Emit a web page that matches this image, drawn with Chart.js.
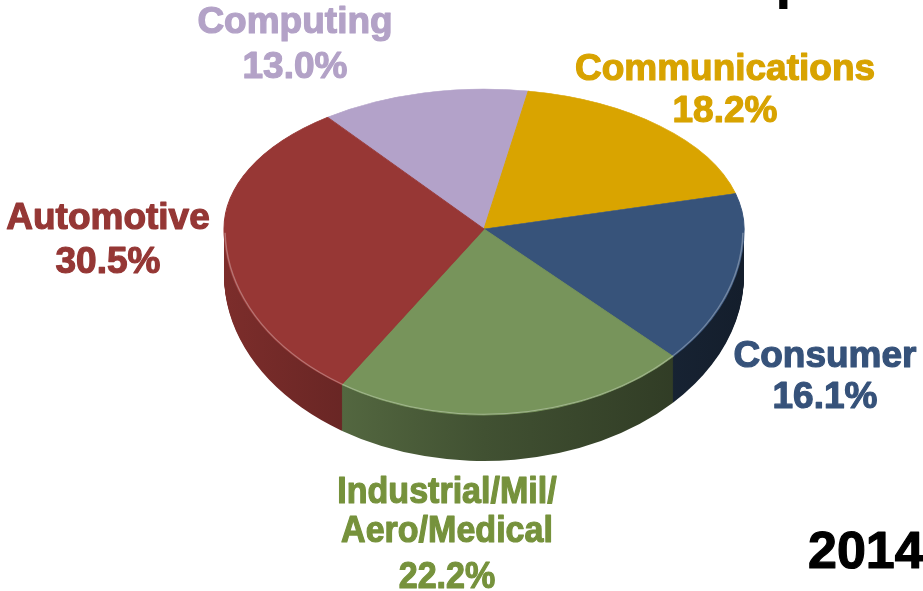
<!DOCTYPE html>
<html>
<head>
<meta charset="utf-8">
<script src="https://cdn.jsdelivr.net/npm/chart.js@4.4.1/dist/chart.umd.min.js"></script>
<style>
  html, body { margin: 0; padding: 0; background: #fff; overflow: hidden; }
</style>
</head>
<body>
<canvas id="pieChart" width="923" height="591"></canvas>
<script>
// data
const segments = ['Computing', 'Communications', 'Consumer', 'Industrial/Mil/Aero/Medical', 'Automotive'];
const shares = [13.0, 18.2, 16.1, 22.2, 30.5];
const labelLines = [['Computing'], ['Communications'], ['Consumer'], ['Industrial/Mil/', 'Aero/Medical'], ['Automotive']];
const yearLabel = '2014';

const sliceColors = ['#b3a2c9', '#d9a400', '#37537a', '#77945b', '#973735'];
const textColors = ['#b3a2c7', '#d8a300', '#36527a', '#76923c', '#953735'];

// tilted pie geometry (top face ellipse, front half a bit deeper for perspective)
const CX = 484, CY = 229, RX = 260, RY_BACK = 140, RY_FRONT = 186, DEPTH = 46;

// label layout: centre x, baselines of each line (last one is the percentage)
const labelX = [295, 725, 825, 447, 108];
const labelBaselines = [[33, 78], [80, 122], [367, 408], [503, 542, 588], [229, 273]];
const labelSqueeze = [1, 1, 1, 0.92, 1];

function shade(hex, f) {
    const n = parseInt(hex.slice(1), 16);
    const r = (n >> 16) & 255, g = (n >> 8) & 255, b = n & 255;
    return 'rgb(' + Math.round(r * f) + ',' + Math.round(g * f) + ',' + Math.round(b * f) + ')';
}

function toTilt(ctx, arc, ry) {
    ctx.translate(CX, CY);
    ctx.scale(RX / arc.outerRadius, ry / arc.outerRadius);
    ctx.translate(-arc.x, -arc.y);
}

const tiltPlugin = {
    id: 'tilt',
    beforeDatasetsDraw(chart) {
        const ctx = chart.ctx;
        const arcs = chart.getDatasetMeta(0).data;
        const a0 = arcs[0];

        // side walls, only the front half can be seen
        ctx.save();
        ctx.beginPath();
        ctx.rect(0, CY, chart.width, chart.height - CY);
        ctx.clip();
        for (let d = DEPTH; d >= 1; d--) {
            arcs.forEach((arc, i) => {
                const r = arc.outerRadius;
                ctx.save();
                ctx.translate(0, d);
                toTilt(ctx, arc, RY_FRONT);
                const g = ctx.createLinearGradient(arc.x - r, 0, arc.x + r, 0);
                g.addColorStop(0, shade(sliceColors[i], 0.82));
                g.addColorStop(0.5, shade(sliceColors[i], 0.55));
                g.addColorStop(1, shade(sliceColors[i], 0.36));
                ctx.fillStyle = g;
                ctx.beginPath();
                ctx.moveTo(arc.x, arc.y);
                ctx.arc(arc.x, arc.y, r, arc.startAngle, arc.endAngle);
                ctx.closePath();
                ctx.fill();
                ctx.restore();
            });
        }
        ctx.restore();

        // back half of the top face
        ctx.save();
        ctx.beginPath();
        ctx.rect(0, 0, chart.width, CY);
        ctx.clip();
        toTilt(ctx, a0, RY_BACK);
        arcs.forEach(a => a.draw(ctx));
        ctx.restore();

        // front half: the chart's own draw, clipped and squashed
        ctx.save();
        ctx.beginPath();
        ctx.rect(0, CY, chart.width, chart.height - CY);
        ctx.clip();
        toTilt(ctx, a0, RY_FRONT);
    },
    afterDatasetsDraw(chart) {
        const ctx = chart.ctx;
        ctx.restore();

        // light rim on the front edge
        const a0 = chart.getDatasetMeta(0).data[0];
        ctx.save();
        toTilt(ctx, a0, RY_FRONT);
        ctx.beginPath();
        ctx.arc(a0.x, a0.y, a0.outerRadius - 1, 0.02, Math.PI - 0.02);
        ctx.strokeStyle = 'rgba(255,255,255,0.3)';
        ctx.lineWidth = 1.5;
        ctx.stroke();
        ctx.restore();
    },
    afterDraw(chart) {
        const ctx = chart.ctx;
        ctx.save();
        ctx.textAlign = 'center';
        ctx.textBaseline = 'alphabetic';
        ctx.lineJoin = 'round';
        ctx.lineWidth = 1.2;
        ctx.font = "bold 37px 'Liberation Sans', Arial, sans-serif";
        labelLines.forEach((lines, i) => {
            const all = lines.concat([shares[i].toFixed(1) + '%']);
            ctx.fillStyle = textColors[i];
            ctx.strokeStyle = textColors[i];
            all.forEach((t, j) => {
                const w = ctx.measureText(t).width * labelSqueeze[i];
                ctx.fillText(t, labelX[i], labelBaselines[i][j], w);
                ctx.strokeText(t, labelX[i], labelBaselines[i][j], w);
            });
        });

        ctx.fillStyle = '#000';
        ctx.strokeStyle = '#000';
        ctx.textAlign = 'left';
        ctx.font = "bold 52px 'Liberation Sans', Arial, sans-serif";
        ctx.fillText(yearLabel, 808, 568);
        ctx.strokeText(yearLabel, 808, 568);
        // descender of the cut-off title above
        ctx.font = "bold 60px 'Liberation Sans', Arial, sans-serif";
        ctx.fillText('p', 775, -3);
        ctx.restore();
    }
};

new Chart(document.getElementById('pieChart').getContext('2d'), {
    type: 'pie',
    data: {
        labels: segments,
        datasets: [{
            data: shares,
            backgroundColor: sliceColors,
            borderColor: sliceColors,
            borderWidth: 1
        }]
    },
    options: {
        responsive: false,
        animation: false,
        events: [],
        rotation: -37,
        layout: { padding: { left: 224, right: 179, top: 35, bottom: 35 } },
        plugins: {
            legend: { display: false },
            tooltip: { enabled: false }
        }
    },
    plugins: [tiltPlugin]
});
</script>
</body>
</html>
